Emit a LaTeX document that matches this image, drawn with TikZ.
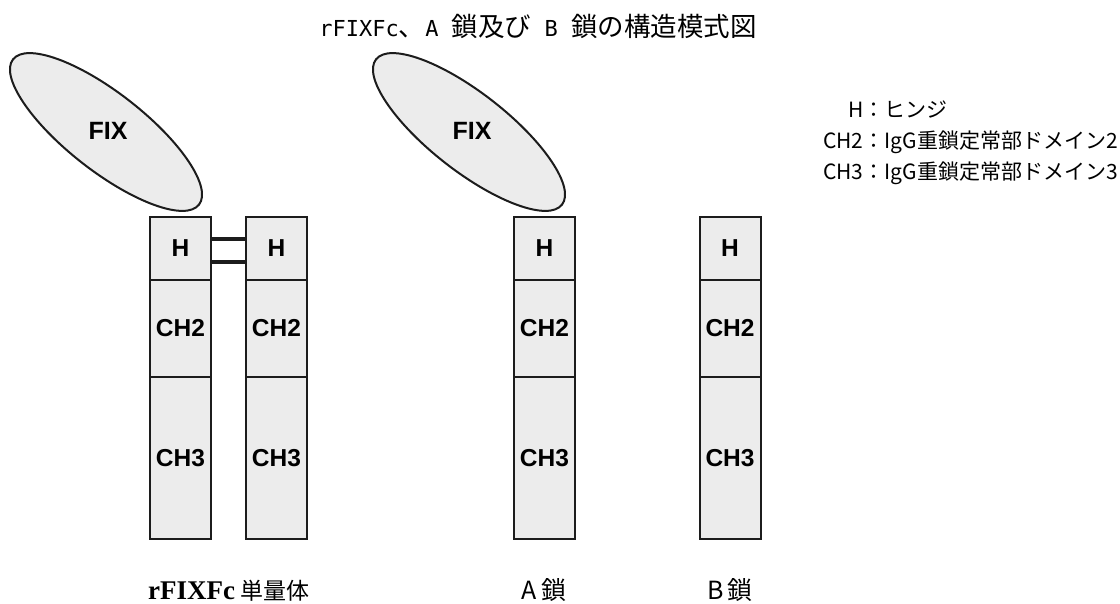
\documentclass[tikz,border=0pt]{standalone}
\usepackage{fontspec}
\setmainfont{Liberation Sans}
\newfontfamily\jp{Noto Sans CJK JP}
\newfontfamily\monof{DejaVu Sans Mono}
\newfontfamily\serifb{Liberation Serif}
\usetikzlibrary{shapes.geometric,calc}
\definecolor{boxfill}{RGB}{236,236,236}
\definecolor{edge}{RGB}{28,28,28}
\begin{document}
\begin{tikzpicture}[x=1pt,y=-1pt,
  dom/.style={draw=edge, fill=boxfill, line width=2pt, minimum width=61pt, inner sep=0pt, font=\fontsize{24.5}{24.5}\selectfont\bfseries},
  hbox/.style={dom, minimum height=63pt},
  chtwo/.style={dom, minimum height=97pt},
  chthree/.style={dom, minimum height=162pt},
  fixell/.style={ellipse, draw=edge, fill=boxfill, line width=2pt, minimum width=236pt, minimum height=78pt, inner sep=0pt, rotate=-38},
  fixlbl/.style={font=\fontsize{25}{25}\selectfont\bfseries},
  bond/.style={draw=edge, line width=4pt},
  legend/.style={anchor=base west, inner sep=0pt, font=\jp\fontsize{21}{21}\selectfont},
  captxt/.style={anchor=base, inner sep=0pt}
]
\useasboundingbox (0,0) rectangle (1120,603);

% title
\node[captxt] (title) at (538,36) {{\monof\fontsize{22}{22}\selectfont rFIXFc}{\jp\fontsize{26.5}{26.5}\selectfont 、}{\monof\fontsize{22}{22}\selectfont A }{\jp\fontsize{26.5}{26.5}\selectfont 鎖及び}{\monof\fontsize{22}{22}\selectfont\ B }{\jp\fontsize{26.5}{26.5}\selectfont 鎖の構造模式図}};

% FIX ellipses
\node[fixell] (fix1) at (106,132) {};
\node[fixlbl] (fixt1) at (108,131) {FIX};
\node[fixell] (fix2) at (469,132) {};
\node[fixlbl] (fixt2) at (472,131) {FIX};

% monomer left chain
\node[hbox] (h1) at (180.5,248.5) {H};
\node[chtwo] (c21) at (180.5,328.5) {CH2};
\node[chthree] (c31) at (180.5,458) {CH3};
% monomer right chain
\node[hbox] (h2) at (276.5,248.5) {H};
\node[chtwo] (c22) at (276.5,328.5) {CH2};
\node[chthree] (c32) at (276.5,458) {CH3};
% A chain
\node[hbox] (hA) at (544.5,248.5) {H};
\node[chtwo] (c2A) at (544.5,328.5) {CH2};
\node[chthree] (c3A) at (544.5,458) {CH3};
% B chain
\node[hbox] (hB) at (730,248.5) {H};
\node[chtwo] (c2B) at (730,328.5) {CH2};
\node[chthree] (c3B) at (730,458) {CH3};

% disulfide bonds
\draw[bond] ($(h1.north east)!0.35!(h1.south east)$) -- ($(h2.north west)!0.35!(h2.south west)$);
\draw[bond] ($(h1.north east)!0.70!(h1.south east)$) -- ($(h2.north west)!0.70!(h2.south west)$);

% legend
\node[legend] (legH) at (823,117) {\hphantom{CH2}\llap{H}：ヒンジ};
\node[legend] (legC2) at (823,148) {CH2：IgG重鎖定常部ドメイン2};
\node[legend] (legC3) at (823,179) {CH3：IgG重鎖定常部ドメイン3};

% bottom labels
\node[captxt] (labM) at (229,599) {{\serifb\bfseries\fontsize{27}{27}\selectfont rFIXFc}\hspace{6pt}{\jp\fontsize{23}{23}\selectfont 単量体}};
\node[captxt, font=\jp\fontsize{25}{25}\selectfont] (labA) at (544,599) {A\hspace{4pt}鎖};
\node[captxt, font=\jp\fontsize{25}{25}\selectfont] (labB) at (730,599) {B\hspace{4pt}鎖};
\end{tikzpicture}
\end{document}
